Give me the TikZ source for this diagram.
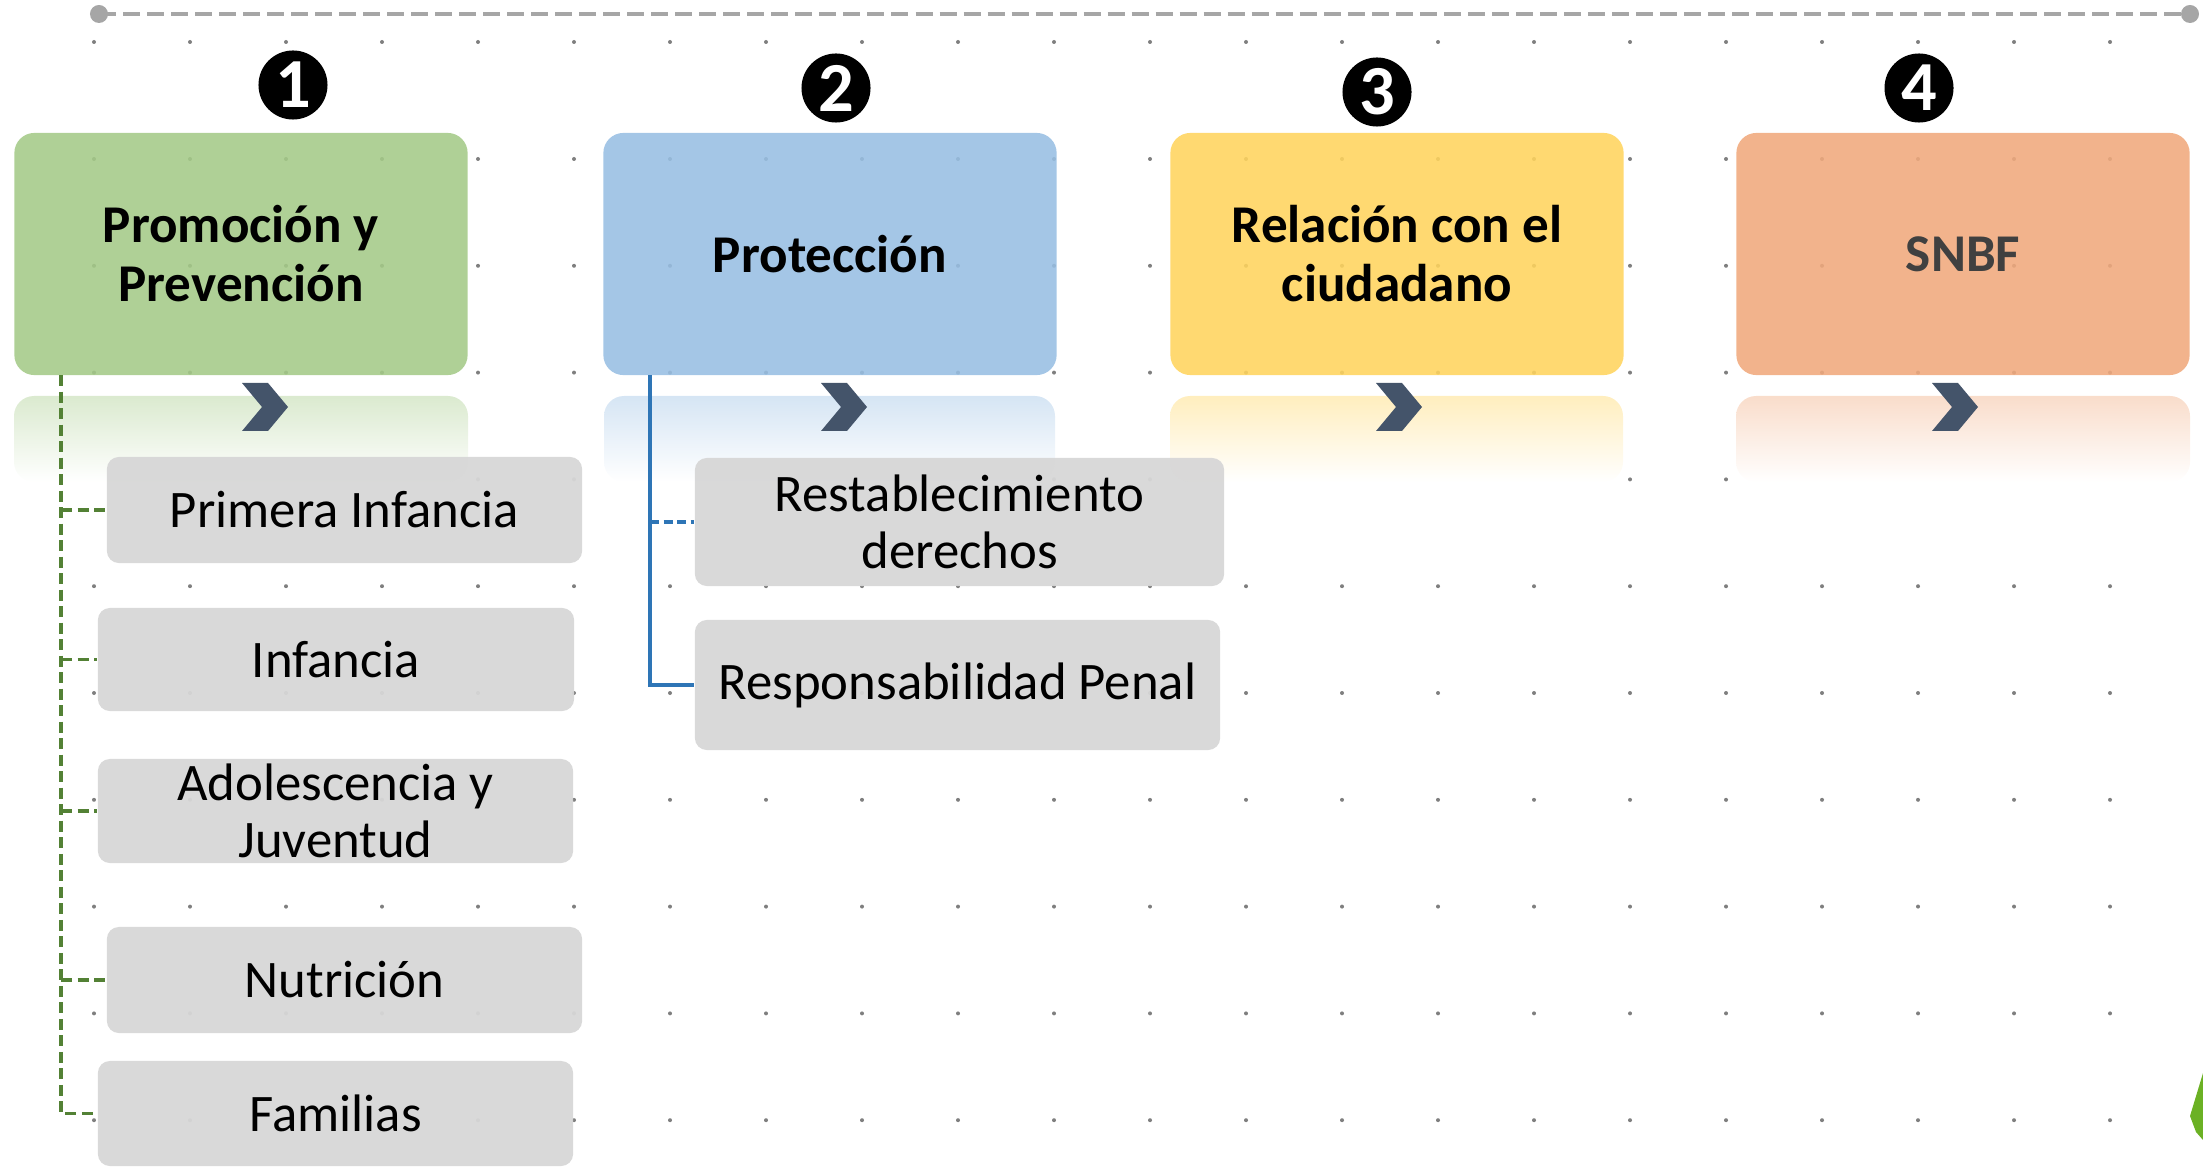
\documentclass[tikz,border=0pt]{standalone}
\usepackage{fontspec}
\setmainfont{Carlito}
\usepackage{tikz}

\definecolor{verde}{HTML}{A4CA87}
\definecolor{azul}{HTML}{97BEE3}
\definecolor{amarillo}{HTML}{FFD45D}
\definecolor{naranja}{HTML}{F0A97C}
\definecolor{gris}{HTML}{D7D7D7}
\definecolor{pizarra}{HTML}{44546A}
\definecolor{lineaverde}{HTML}{538135}
\definecolor{lineaazul}{HTML}{2E75B6}
\definecolor{lineagris}{HTML}{A6A6A6}
\definecolor{punto}{HTML}{7F7F7F}
\definecolor{textosnbf}{HTML}{404040}
\definecolor{hoja}{HTML}{6BB124}

\tikzset{
  caja/.style={rounded corners=0.2cm, fill opacity=0.88, text opacity=1, minimum width=4.53cm, minimum height=2.42cm, inner sep=0pt, align=center, font=\fontsize{15.1}{16.8}\selectfont\bfseries},
  subcaja/.style={fill=gris, fill opacity=0.95, text opacity=1, rounded corners=0.12cm, inner sep=0pt, align=center, font=\fontsize{15}{16.4}\selectfont},
  numero/.style={circle, fill=black, text=white, minimum size=0.69cm, inner sep=0pt, font=\fontsize{20}{20}\selectfont\bfseries},
  ramav/.style={lineaverde, line width=0.032cm, dash pattern=on 0.11cm off 0.055cm},
  ramaa/.style={lineaazul, line width=0.032cm},
}

\begin{document}
\begin{tikzpicture}[x=0.01cm,y=-0.01cm]
		\useasboundingbox (0,0) rectangle (2203,1167);
		\foreach \i in {0,...,21}{
			\fill[punto] (94+96*\i,42) circle (0.02cm);
			\foreach \j in {0,...,9}
				\fill[punto] (94+96*\i,159+106.8*\j) circle (0.02cm);
		}
		\coordinate (ini) at (99,14);
		\coordinate (fin) at (2190,14);
		\draw[lineagris, line width=0.04cm, dash pattern=on 0.17cm off 0.07cm] (ini) -- (fin);
		\fill[lineagris] (ini) circle (0.09cm) (fin) circle (0.09cm);
		\shade[top color=verde!40!white, bottom color=white, rounded corners=0.2cm] (14,396) rectangle (468,482);
		\shade[top color=azul!40!white, bottom color=white, rounded corners=0.2cm] (604,396) rectangle (1055,482);
		\shade[top color=amarillo!40!white, bottom color=white, rounded corners=0.2cm] (1170,396) rectangle (1623,482);
		\shade[top color=naranja!40!white, bottom color=white, rounded corners=0.2cm] (1736,396) rectangle (2190,482);
		\node[caja, fill=verde] (prom) at (241,254) {Promoción y\\Prevención};
		\node[caja, fill=azul] (prot) at (830,254) {Protección};
		\node[caja, fill=amarillo] (rel) at (1397,254) {Relación con el\\ciudadano};
		\node[caja, fill=naranja, text=textosnbf] (snbf) at (1963,254) {SNBF};
		\node[numero] (n1) at (293,85) {1};
		\node[numero] (n2) at (836,88) {2};
		\node[numero] (n3) at (1377,92) {3};
		\node[numero] (n4) at (1919,88) {4};
		\foreach \cx in {265,844,1399,1955}
			\fill[pizarra] (\cx-23,383) -- (\cx+3,383) -- (\cx+23,407) -- (\cx+3,431) -- (\cx-23,431) -- (\cx-3,407) -- cycle;
		\node[subcaja, minimum width=4.75cm, minimum height=1.06cm] (pinf) at (344.5,510) {Primera Infancia};
		\node[subcaja, minimum width=4.76cm, minimum height=1.03cm] (inf) at (336,659.5) {Infancia};
		\node[subcaja, minimum width=4.75cm, minimum height=1.04cm] (adol) at (335.5,811) {Adolescencia y\\Juventud};
		\node[subcaja, minimum width=4.75cm, minimum height=1.06cm] (nutr) at (344.5,980) {Nutrición};
		\node[subcaja, minimum width=4.75cm, minimum height=1.05cm] (fam) at (335.5,1113.5) {Familias};
		\node[subcaja, minimum width=5.29cm, minimum height=1.28cm] (rest) at (959.5,522) {Restablecimiento\\derechos};
		\node[subcaja, minimum width=5.25cm, minimum height=1.30cm] (resp) at (957.5,685) {Responsabilidad Penal};
		\coordinate (tv) at (61,375);
		\draw[ramav] (tv) |- (fam.west);
		\foreach \n in {pinf,inf,adol,nutr}
			\draw[ramav] (tv |- \n.west) -- (\n.west);
		\coordinate (ta) at (650,375);
		\draw[ramaa] (ta) |- (resp.west);
		\draw[ramaa, dash pattern=on 0.09cm off 0.045cm] (ta |- rest.west) -- (rest.west);
		\fill[hoja] (2203,1073) -- (2190,1116) -- (2196,1132) -- (2203,1140) -- cycle;
\end{tikzpicture}
\end{document}
